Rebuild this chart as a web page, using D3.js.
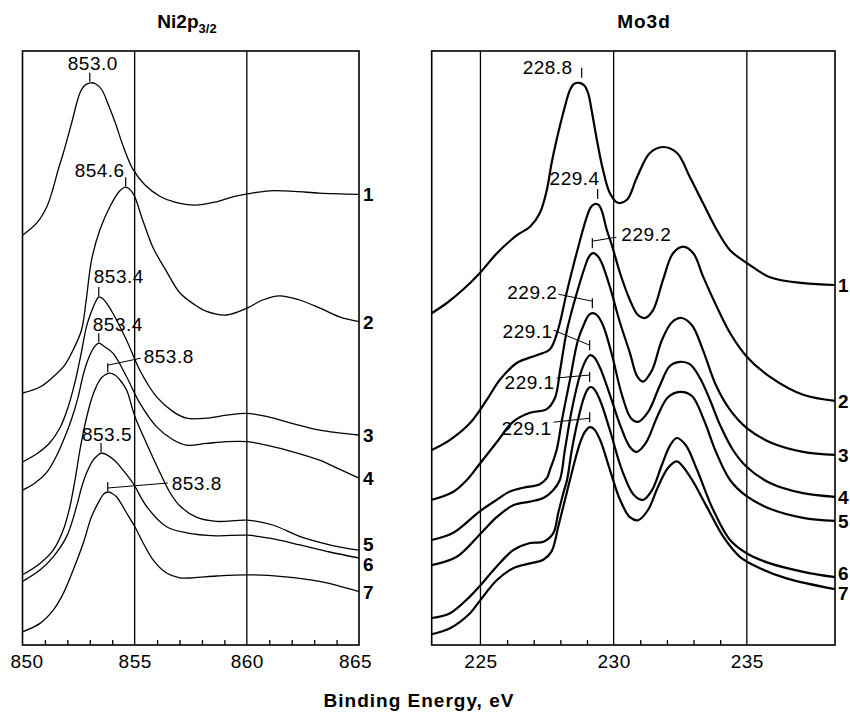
<!DOCTYPE html>
<html lang="en">
<head>
<meta charset="UTF-8">
<title>Ni2p3/2 and Mo3d spectra</title>
<script src="https://d3js.org/d3.v7.min.js"></script>
<style>
  body { margin:0; background:#fff; }
  svg { display:block; font-family:"Liberation Sans", Arial, sans-serif; }
</style>
</head>
<body>
<svg id="chart" width="850" height="712"></svg>
<script>

// Ni2p3/2 spectra, [binding energy (eV), intensity (a.u.)]
var ni1 = [[850.00,68.3],[850.63,70.3],[851.08,73.0],[851.37,76.2],[851.59,79.2],[851.82,82.0],[852.19,87.0],[852.56,92.0],[852.78,93.3],[853.04,93.7],[853.27,93.5],[853.54,92.5],[853.80,90.3],[854.12,87.2],[854.52,82.8],[854.92,79.3],[855.45,76.7],[856.12,74.8],[856.79,73.8],[857.68,73.3],[858.57,73.8],[859.37,74.7],[860.04,75.2],[861.01,75.7],[862.13,75.6],[863.24,75.3],[865.00,75.1]];
var ni2 = [[850.00,42.0],[850.78,43.0],[851.37,44.7],[851.89,46.7],[852.26,49.2],[852.63,52.5],[852.83,57.2],[853.08,64.2],[853.45,69.2],[853.89,73.0],[854.34,75.7],[854.61,76.3],[854.92,75.3],[855.36,70.8],[855.81,66.3],[856.43,62.2],[857.01,58.7],[857.68,56.7],[858.21,55.6],[859.10,55.0],[860.04,56.2],[860.70,57.5],[861.46,58.2],[862.35,57.5],[863.24,56.2],[864.13,54.7],[865.00,53.9]];
var ni3 = [[850.00,30.5],[850.69,32.0],[851.22,33.7],[851.67,36.2],[852.02,39.5],[852.34,43.8],[852.60,48.3],[852.87,53.3],[853.14,56.2],[853.27,57.3],[853.40,58.0],[853.58,57.7],[853.80,56.7],[854.03,55.3],[854.64,50.8],[855.23,45.8],[855.97,41.4],[856.71,38.9],[857.31,37.8],[858.20,37.8],[859.09,38.3],[859.98,38.6],[860.87,38.1],[862.05,36.9],[863.24,35.8],[865.00,35.0]];
var ni4 = [[850.00,25.8],[850.56,27.0],[851.09,28.8],[851.54,31.7],[851.89,34.7],[852.20,37.8],[852.47,41.2],[852.74,45.5],[853.00,48.3],[853.23,49.8],[853.40,50.3],[853.63,49.8],[854.04,48.6],[854.64,44.7],[855.23,40.3],[855.97,36.4],[856.71,34.2],[857.31,33.3],[858.20,33.6],[859.09,33.9],[860.02,33.9],[860.87,33.3],[862.05,32.2],[863.24,30.8],[864.13,29.3],[865.00,27.8]];
var ni5 = [[850.00,11.7],[850.78,13.6],[851.37,15.8],[851.82,19.2],[852.11,23.0],[852.34,27.5],[852.56,32.5],[852.83,37.5],[853.14,41.7],[853.45,44.2],[853.67,45.0],[853.89,45.3],[854.12,45.0],[854.38,44.0],[854.64,42.5],[855.01,38.1],[855.53,33.6],[856.12,28.8],[856.56,25.5],[857.01,23.2],[857.75,21.3],[858.64,20.6],[860.02,20.8],[861.16,20.0],[862.35,18.1],[863.69,16.7],[865.00,15.8]];
var ni6 = [[850.00,10.6],[850.78,12.5],[851.37,14.7],[851.97,18.1],[852.41,23.1],[852.63,26.2],[852.86,28.7],[853.15,30.8],[853.32,31.5],[853.52,32.0],[853.76,31.7],[854.12,30.7],[854.47,29.2],[854.92,27.0],[855.53,23.1],[856.42,19.7],[857.31,18.7],[858.64,18.2],[860.02,18.3],[861.01,17.8],[862.35,16.7],[863.69,15.5],[865.00,14.5]];
var ni7 = [[850.00,2.2],[850.78,3.6],[851.37,5.8],[851.82,8.6],[852.26,12.5],[852.71,17.0],[853.08,21.4],[853.45,24.2],[853.63,25.2],[853.82,25.5],[853.98,25.3],[854.19,24.7],[854.64,22.0],[855.01,19.7],[855.38,17.0],[855.82,14.2],[856.42,12.0],[857.01,11.2],[857.60,11.2],[858.64,11.5],[860.02,11.7],[861.61,11.4],[863.24,10.6],[865.00,8.9]];

// Mo3d spectra
var mo1 = [[223.17,55.3],[223.74,57.0],[224.34,59.2],[224.98,62.0],[225.62,65.3],[226.37,68.3],[226.86,69.7],[227.23,72.0],[227.49,75.8],[227.67,80.3],[227.86,84.2],[228.11,88.7],[228.36,92.5],[228.51,93.5],[228.71,93.7],[228.89,93.3],[229.04,92.0],[229.19,88.7],[229.37,84.2],[229.60,79.2],[229.86,75.3],[230.16,73.7],[230.50,74.2],[230.88,78.0],[231.36,82.0],[231.85,83.0],[232.38,82.0],[232.86,78.0],[233.35,73.7],[233.87,69.2],[234.37,65.8],[234.99,63.7],[235.87,61.3],[237.11,60.3],[238.31,60.0]];
var mo2 = [[223.17,32.5],[223.86,34.2],[224.61,37.0],[225.23,40.8],[225.73,44.2],[226.36,47.0],[227.11,48.3],[227.61,49.3],[227.91,52.5],[228.24,58.8],[228.61,65.3],[228.99,71.3],[229.15,73.0],[229.30,73.5],[229.45,73.3],[229.56,72.3],[229.74,69.2],[229.93,66.7],[230.24,62.0],[230.61,57.5],[230.91,55.0],[231.18,54.5],[231.48,55.8],[231.85,60.8],[232.23,65.3],[232.61,66.4],[232.99,65.3],[233.36,61.4],[233.87,56.4],[234.37,52.0],[234.99,48.1],[235.87,44.7],[237.12,41.7],[238.31,40.7]];
var mo3 = [[223.17,24.2],[223.97,25.5],[224.49,27.5],[224.94,30.0],[225.61,33.8],[226.22,37.2],[226.86,38.7],[227.49,39.3],[227.80,41.2],[227.98,45.5],[228.10,48.8],[228.25,52.5],[228.62,58.7],[228.92,63.0],[229.07,64.7],[229.23,65.3],[229.41,64.8],[229.55,63.7],[229.86,59.7],[230.24,53.7],[230.61,48.7],[230.88,44.8],[231.10,43.9],[231.44,45.8],[231.81,50.8],[232.19,53.8],[232.55,54.5],[232.94,53.3],[233.35,49.2],[233.84,43.3],[234.37,39.2],[234.99,36.2],[235.87,33.8],[237.11,32.2],[238.31,31.7]];
var mo4 = [[223.17,17.5],[223.98,18.7],[224.95,22.2],[225.61,24.2],[226.11,25.6],[226.61,26.2],[227.23,26.8],[227.49,27.8],[227.61,29.2],[227.86,32.5],[228.06,37.5],[228.36,44.2],[228.66,50.8],[228.92,53.8],[229.07,55.0],[229.21,55.3],[229.37,55.0],[229.60,53.3],[229.94,48.3],[230.31,41.7],[230.65,37.8],[230.92,37.2],[231.29,38.8],[231.74,43.3],[232.11,46.5],[232.49,47.2],[232.86,46.8],[233.24,44.5],[233.62,40.8],[233.99,36.7],[234.48,32.5],[234.99,29.7],[235.87,27.0],[237.11,25.3],[238.31,24.7]];
var mo5 = [[223.17,13.3],[224.11,14.7],[224.95,18.3],[225.61,21.3],[226.23,23.3],[226.86,23.9],[227.36,24.5],[227.73,25.8],[227.98,27.5],[228.17,32.5],[228.43,39.2],[228.74,45.0],[228.96,47.5],[229.11,48.3],[229.26,48.0],[229.49,46.2],[229.86,41.7],[230.24,36.7],[230.61,33.0],[230.86,32.2],[231.21,33.7],[231.66,38.3],[232.04,41.3],[232.49,42.2],[232.94,41.5],[233.39,37.5],[233.84,32.2],[234.37,27.5],[234.99,24.8],[235.87,22.7],[237.11,21.2],[238.31,20.7]];
var mo6 = [[223.17,4.5],[223.86,5.3],[224.61,8.1],[224.95,9.7],[225.61,13.1],[226.23,15.8],[226.86,17.0],[227.36,17.2],[227.73,18.6],[227.92,22.0],[228.11,25.3],[228.25,27.5],[228.43,32.5],[228.66,37.5],[228.89,41.3],[229.04,42.7],[229.14,43.0],[229.26,42.7],[229.49,40.8],[229.86,35.8],[230.31,29.2],[230.76,25.0],[231.11,24.2],[231.44,25.8],[231.81,30.0],[232.11,33.2],[232.37,34.5],[232.71,33.3],[233.13,29.2],[233.74,22.5],[234.37,17.5],[234.99,15.3],[235.87,13.6],[237.12,12.2],[238.31,11.3]];
var mo7 = [[223.17,1.8],[223.86,2.8],[224.61,5.3],[224.95,7.2],[225.61,10.8],[226.23,12.8],[226.86,13.6],[227.36,14.2],[227.67,15.6],[227.92,19.7],[228.11,23.1],[228.36,27.5],[228.55,30.8],[228.74,33.7],[228.92,35.5],[229.11,36.3],[229.26,36.0],[229.49,34.2],[229.86,29.2],[230.24,24.2],[230.61,21.3],[230.92,20.8],[231.29,22.5],[231.66,26.3],[232.04,29.5],[232.37,30.6],[232.86,28.1],[233.49,23.1],[234.11,18.1],[234.74,14.7],[235.49,12.8],[236.49,11.1],[238.31,9.3]];

// peak positions written on the plot
var niPeaks = [853.0, 854.6, 853.4, 853.4, 853.8, 853.5, 853.8];
var moPeaks = [228.8, 229.4, 229.2, 229.2, 229.1, 229.1, 229.1];
var curveNames = ["1", "2", "3", "4", "5", "6", "7"];

// axes
var niTicks = [850, 855, 860, 865];
var niGrid = [855, 860];
var niMinor = [851, 852, 853, 854, 856, 857, 858, 859, 861, 862, 863, 864];
var moTicks = [225, 230, 235];
var moGrid = [225, 230, 235];
var moMinor = [226, 227, 228, 229, 231, 232, 233, 234];

// where each peak label sits, relative to the top of its little marker
// lead = [start dy, end dx, end dy] for the leader lines
var niLabelPos = [
  {dx: 3, dy: -3, anchor: "middle"},
  {dx: -1, dy: 0, anchor: "end"},
  {dx: -5, dy: -4, anchor: "start"},
  {dx: -6, dy: -2, anchor: "start"},
  {lead: [2, 33, -5], dx: 36, dy: 0, anchor: "start"},
  {dx: 6, dy: -2, anchor: "middle"},
  {lead: [6, 60, 1], dx: 64, dy: 8, anchor: "start"}
];
var moLabelPos = [
  {dx: -9, dy: 6, anchor: "end"},
  {dx: 2, dy: -4, anchor: "end"},
  {lead: [3, 24, -1], dx: 29, dy: 3, anchor: "start"},
  {lead: [3, -34, -4], dx: -35, dy: 1, anchor: "end"},
  {lead: [5, -36, -10], dx: -37, dy: -2, anchor: "end"},
  {lead: [3, -33, 6], dx: -35, dy: 17, anchor: "end"},
  {lead: [6, -36, 10], dx: -38, dy: 23, anchor: "end"}
];

var svg = d3.select("#chart");
var plotTop = 51, plotBottom = 645;

// push end labels apart so they don't sit on each other
function spread(ys, gap) {
  var p = ys.slice();
  for (var k = 0; k < 60; k++) {
    for (var i = 1; i < p.length; i++) {
      var d = p[i] - p[i - 1];
      if (d < gap) { var m = (gap - d) / 2; p[i - 1] -= m; p[i] += m; }
    }
  }
  return p;
}

function drawPanel(o) {
  var x = d3.scaleLinear().domain(o.domain).range([o.left, o.right]);
  var y = d3.scaleLinear().domain([0, 99]).range([plotBottom, plotTop]);
  var g = svg.append("g");

  // grid lines
  g.selectAll(".grid")
    .data(o.grid)
    .enter().append("line")
      .attr("x1", d => x(d)).attr("x2", d => x(d))
      .attr("y1", plotTop).attr("y2", plotBottom)
      .attr("stroke", "#000").attr("stroke-width", 1.3);

  // small inside ticks
  var minor = g.append("g")
    .attr("transform", "translate(0," + plotBottom + ")")
    .call(d3.axisBottom(x).tickValues(o.minor).tickSize(-5).tickFormat(""));
  minor.select(".domain").remove();
  minor.selectAll("line").attr("stroke-width", 1.3);

  // tick labels
  var lab = g.append("g")
    .attr("transform", "translate(0," + plotBottom + ")")
    .call(d3.axisBottom(x).tickValues(o.ticks).tickSize(0).tickPadding(9.5).tickFormat(d3.format("d")));
  lab.select(".domain").remove();
  lab.selectAll("text")
    .attr("font-family", "Liberation Sans, Arial, sans-serif")
    .attr("font-size", 19)
    .attr("letter-spacing", 0.5)
    .attr("fill", "#000");
  if (o.nudgeEnds) {
    lab.selectAll("text").filter((d, i) => i === 0).attr("dx", 4);
    lab.selectAll("text").filter((d, i, n) => i === n.length - 1).attr("dx", -4);
  }

  // spectra
  var line = d3.line()
    .x(d => x(d[0]))
    .y(d => y(d[1]))
    .curve(d3.curveCatmullRom.alpha(0.5));
  g.selectAll(".spec")
    .data(o.series)
    .enter().append("path")
      .attr("d", line)
      .attr("fill", "none")
      .attr("stroke", "#000")
      .attr("stroke-width", o.lineWidth)
      .attr("stroke-linejoin", "round");

  // frame
  g.append("rect")
    .attr("x", o.left).attr("y", plotTop)
    .attr("width", o.right - o.left).attr("height", plotBottom - plotTop)
    .attr("fill", "none").attr("stroke", "#000").attr("stroke-width", 1.6);

  // peak markers + labels
  o.series.forEach(function(s, i) {
    var e = o.peaks[i];
    var pk = d3.max(s.filter(d => Math.abs(d[0] - e) <= 0.5), d => d[1]);
    var tx = x(e);
    var tb = y(pk) - o.gap;
    var ty = tb - o.tickLen;
    var L = o.labelPos[i];
    g.append("line")
      .attr("x1", tx).attr("x2", tx).attr("y1", ty).attr("y2", tb)
      .attr("stroke", "#000").attr("stroke-width", 1.2);
    if (L.lead) {
      g.append("line")
        .attr("x1", tx).attr("y1", ty + L.lead[0])
        .attr("x2", tx + L.lead[1]).attr("y2", ty + L.lead[2])
        .attr("stroke", "#000").attr("stroke-width", 1);
    }
    g.append("text")
      .attr("x", tx + L.dx).attr("y", ty + L.dy)
      .attr("text-anchor", L.anchor)
      .attr("font-size", 19)
      .attr("letter-spacing", 0.5)
      .text(e.toFixed(1));
  });

  // curve numbers at the right edge
  var ends = o.series.map(s => y(s[s.length - 1][1]));
  var pos = spread(ends, 20);
  g.selectAll(".num")
    .data(curveNames)
    .enter().append("text")
      .attr("x", o.right + o.numGap)
      .attr("y", (d, i) => pos[i] + 7)
      .attr("font-size", 19)
      .attr("font-weight", "bold")
      .text(d => d);
}

drawPanel({
  domain: [850, 865], left: 22.5, right: 359,
  series: [ni1, ni2, ni3, ni4, ni5, ni6, ni7],
  peaks: niPeaks, labelPos: niLabelPos,
  ticks: niTicks, grid: niGrid, minor: niMinor,
  lineWidth: 1.3, gap: 1, tickLen: 9, numGap: 4, nudgeEnds: true
});

drawPanel({
  domain: [223.17, 238.31], left: 431.7, right: 835,
  series: [mo1, mo2, mo3, mo4, mo5, mo6, mo7],
  peaks: moPeaks, labelPos: moLabelPos,
  ticks: moTicks, grid: moGrid, minor: moMinor,
  lineWidth: 2.2, gap: 5, tickLen: 10, numGap: 3, nudgeEnds: false
});

// titles
var t1 = svg.append("text")
  .attr("x", 187).attr("y", 28)
  .attr("text-anchor", "middle")
  .attr("font-size", 19).attr("font-weight", "bold");
t1.append("tspan").text("Ni2p");
t1.append("tspan").attr("font-size", 13).attr("dy", 5).text("3/2");

svg.append("text")
  .attr("x", 644).attr("y", 28)
  .attr("text-anchor", "middle")
  .attr("font-size", 19).attr("font-weight", "bold")
  .attr("letter-spacing", 1)
  .text("Mo3d");

svg.append("text")
  .attr("x", 419).attr("y", 707)
  .attr("text-anchor", "middle")
  .attr("font-size", 19).attr("font-weight", "bold")
  .attr("letter-spacing", 1)
  .text("Binding Energy, eV");

</script>
</body>
</html>
